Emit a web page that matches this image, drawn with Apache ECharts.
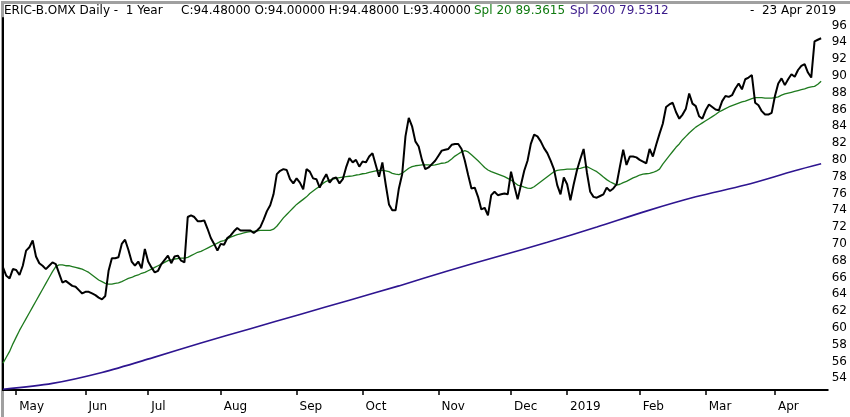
<!DOCTYPE html>
<html>
<head>
<meta charset="utf-8">
<script src="https://cdn.jsdelivr.net/npm/echarts@6/dist/echarts.min.js"></script>
<style>
html,body{margin:0;padding:0;background:#fff;}
#c{width:850px;height:417px;}
</style>
</head>
<body>
<div id="c"></div>
<script>
// Trading-day index axis: index 0 = 25 Apr 2018, index 248 = 23 Apr 2019
const monthTickIdx = [4, 25, 44, 66, 89, 109, 132, 154, 171, 193, 213, 234];
const monthLabels = ['May', 'Jun', 'Jul', 'Aug', 'Sep', 'Oct', 'Nov', 'Dec', '2019', 'Feb', 'Mar', 'Apr'];
const yTickLabels = [54,56,58,60,62,64,66,68,70,72,74,76,78,80,82,84,86,88,90,92,94,96];

const closePrice = [
67.2,66.2,65.9,67.0,66.9,66.3,67.4,69.2,69.6,70.4,
68.5,67.7,67.4,67.0,67.4,67.8,67.6,66.5,65.4,65.6,
65.3,65.0,64.9,64.5,64.1,64.3,64.3,64.1,63.9,63.6,
63.4,63.8,66.8,68.3,68.3,68.4,70.0,70.5,69.3,67.9,
67.4,67.9,67.1,69.4,67.9,67.2,66.6,66.8,67.6,68.1,
68.6,67.7,68.5,68.6,68.0,67.8,73.2,73.4,73.2,72.7,
72.7,72.8,71.8,70.7,70.0,69.2,70.0,69.9,70.7,71.0,
71.5,71.9,71.6,71.6,71.6,71.6,71.3,71.6,72.0,72.9,
73.9,74.6,75.9,78.3,78.7,78.9,78.8,77.7,77.2,77.8,
77.3,76.5,78.9,78.6,77.8,77.7,76.7,77.6,78.3,77.3,
77.8,77.9,77.2,77.7,79.1,80.2,79.7,80.0,79.2,79.8,
79.7,80.4,80.8,79.4,78.0,79.7,77.1,74.7,74.0,74.0,
76.6,78.3,82.8,85.0,84.0,82.2,81.6,80.0,78.9,79.1,
79.5,79.9,80.5,81.1,81.2,81.3,81.8,81.9,81.9,81.3,
79.9,78.2,76.6,76.7,75.6,74.1,74.3,73.4,75.8,76.2,
75.8,75.9,76.0,75.9,78.6,76.9,75.3,77.0,78.7,79.9,
81.9,83.0,82.8,82.2,81.4,80.8,79.9,78.9,77.0,75.9,
77.9,77.1,75.2,77.1,78.8,80.1,81.3,78.5,76.2,75.6,
75.5,75.7,75.9,76.7,76.3,76.6,77.1,79.2,81.2,79.4,
80.4,80.4,80.3,80.0,79.8,79.6,81.3,80.4,81.8,83.1,
84.3,86.3,86.6,86.8,85.7,84.9,85.4,86.1,87.9,86.7,
86.4,85.2,84.9,85.9,86.6,86.3,86.0,85.9,87.0,87.6,
87.5,87.7,88.5,89.1,88.4,89.6,89.8,90.1,86.8,86.5,
85.8,85.4,85.4,85.6,87.6,89.1,89.7,88.9,89.6,90.2,
89.9,90.7,91.2,91.4,90.4,89.8,94.1,94.3,94.48
];

const spl20 = [
55.8,56.5,57.2,58.1,58.9,59.7,60.4,61.1,61.8,62.5,
63.2,63.9,64.6,65.3,66.0,66.7,67.3,67.5,67.5,67.4,
67.4,67.3,67.2,67.1,67.0,66.8,66.6,66.3,66.0,65.7,
65.5,65.3,65.2,65.2,65.3,65.35,65.5,65.7,65.9,66.0,
66.2,66.3,66.5,66.6,66.8,67.0,67.2,67.4,67.6,67.8,
68.0,68.1,68.2,68.25,68.3,68.3,68.4,68.6,68.8,69.0,
69.1,69.3,69.5,69.7,69.9,70.1,70.3,70.4,70.6,70.8,
70.95,71.1,71.2,71.3,71.4,71.45,71.5,71.55,71.6,71.6,
71.6,71.6,71.75,72.1,72.6,73.1,73.5,73.9,74.3,74.7,
75.0,75.3,75.6,76.0,76.3,76.6,76.85,77.2,77.45,77.6,
77.7,77.8,77.9,77.95,78.0,78.05,78.1,78.2,78.25,78.35,
78.4,78.5,78.6,78.7,78.75,78.75,78.7,78.6,78.4,78.3,
78.25,78.4,78.7,79.0,79.2,79.3,79.35,79.4,79.4,79.4,
79.35,79.4,79.5,79.6,79.65,79.8,80.1,80.45,80.7,80.95,
81.1,80.95,80.6,80.25,79.9,79.5,79.1,78.8,78.6,78.45,
78.3,78.15,78.0,77.8,77.6,77.3,77.0,76.9,76.75,76.65,
76.6,76.8,77.1,77.4,77.7,78.0,78.3,78.6,78.75,78.8,
78.85,78.9,78.9,78.9,78.95,79.0,79.1,79.2,79.0,78.8,
78.6,78.3,77.95,77.65,77.4,77.2,77.0,77.1,77.3,77.45,
77.65,77.85,78.0,78.2,78.3,78.35,78.4,78.5,78.65,78.9,
79.5,80.0,80.5,81.0,81.5,81.9,82.4,82.8,83.2,83.55,
83.9,84.15,84.4,84.65,84.9,85.15,85.4,85.7,85.9,86.1,
86.3,86.45,86.6,86.75,86.9,87.0,87.15,87.3,87.4,87.4,
87.4,87.35,87.35,87.35,87.4,87.5,87.7,87.85,87.95,88.05,
88.15,88.25,88.35,88.45,88.6,88.7,88.75,89.0,89.36
];

// Spl 200: read at selected trading-day indices
const spl200Idx = [0, 15, 30, 45, 60, 75, 90, 105, 120, 135, 150, 165, 180, 195, 210, 225, 240, 248];
const spl200Val = [52.7, 53.4, 54.7, 56.4, 58.2, 59.9, 61.6, 63.3, 65.0, 66.8, 68.5, 70.2, 72.0, 73.9, 75.6, 77.0, 78.7, 79.53];

const chart = echarts.init(document.getElementById('c'), null, {renderer: 'canvas'});
const FONT = 'DejaVu Sans';

const txt = (x, text, color) => ({
  type: 'text', left: x, top: 5,
  style: {text: text, fill: color, font: '12px "DejaVu Sans"'}
});

chart.setOption({
  animation: false,
  backgroundColor: '#fff',
  grid: {left: 3, right: 22, top: 18, bottom: 27},
  xAxis: {
    type: 'value', min: 0, max: 250,
    axisLine: {show: true, onZero: false, lineStyle: {color: '#000', width: 2}},
    axisTick: {show: true, customValues: monthTickIdx, length: 5, lineStyle: {color: '#000', width: 1.5}},
    axisLabel: {
      customValues: monthTickIdx,
      formatter: v => { const k = monthTickIdx.indexOf(Math.round(v)); return k >= 0 ? monthLabels[k] : ''; },
      align: 'left', padding: [0, 0, 0, 3], margin: 11,
      fontFamily: FONT, fontSize: 12, color: '#000'
    },
    splitLine: {show: false}
  },
  yAxis: {
    type: 'value', position: 'right', min: 52.607, max: 96.89,
    axisLine: {show: true, lineStyle: {color: '#000', width: 2}},
    axisTick: {show: false},
    axisLabel: {customValues: yTickLabels, margin: 4, fontFamily: FONT, fontSize: 12, color: '#000'},
    splitLine: {show: false}
  },
  series: [
    {
      name: 'Spl 200', type: 'line', showSymbol: false, smooth: 0.3,
      data: spl200Idx.map((x, i) => [x, spl200Val[i]]),
      lineStyle: {color: '#2e1590', width: 1.6}
    },
    {
      name: 'Spl 20', type: 'line', showSymbol: false,
      data: spl20.map((v, i) => [i, v]),
      lineStyle: {color: '#1e7a1e', width: 1.3}
    },
    {
      name: 'Close', type: 'line', showSymbol: false,
      data: closePrice.map((v, i) => [i, v]),
      lineStyle: {color: '#000', width: 2}
    }
  ],
  graphic: [
    {type: 'rect', left: 0, top: 0, shape: {width: 849, height: 416},
     style: {fill: 'none', stroke: '#a0a0a0', lineWidth: 3}, silent: true},
    txt(4, 'ERIC-B.OMX Daily -  1 Year', '#000'),
    txt(181, 'C:94.48000 O:94.00000 H:94.48000 L:93.40000', '#000'),
    txt(474, 'Spl 20 89.3615', '#107a10'),
    txt(570, 'Spl 200 79.5312', '#3a1a8a'),
    txt(750, '-  23 Apr 2019', '#000')
  ]
});
</script>
</body>
</html>
